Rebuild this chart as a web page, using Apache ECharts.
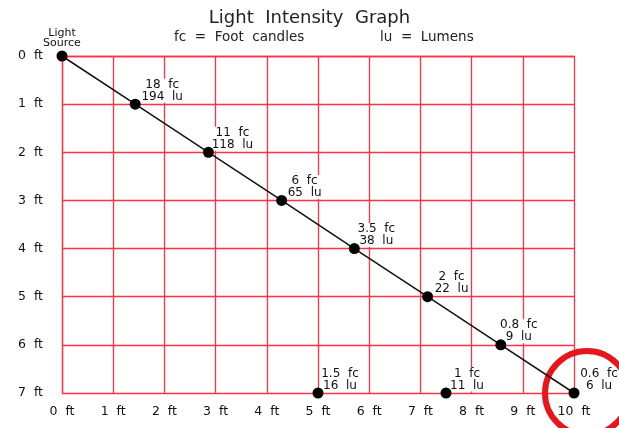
<!DOCTYPE html>
<html>
<head>
<meta charset="utf-8">
<script src="https://cdn.jsdelivr.net/npm/echarts@6/dist/echarts.min.js"></script>
<style>html,body{margin:0;padding:0;background:#fff}#c{width:619px;height:428px}</style>
</head>
<body>
<div id="c"></div>
<script>
// Distances (ft) along the ground and the depth below the light source
const mainX = [0, 1.43, 2.86, 4.29, 5.71, 7.14, 8.57, 10];
const mainY = [0, 1, 2, 3, 4, 5, 6, 7];
const mainFc = [null, '18', '11', '6', '3.5', '2', '0.8', '0.6'];
const mainLu = [null, '194', '118', '65', '38', '22', '9', '6'];
const extraX = [5, 7.5];
const extraY = [7, 7];
const extraFc = ['1.5', '1'];
const extraLu = ['16', '11'];
const xTicks = [0,1,2,3,4,5,6,7,8,9,10];
const yTicks = [0,1,2,3,4,5,6,7];
const highlighted = [10, 7];

// label horizontal offsets in px (style only)
const mainLabelDx = [0, 27, 24, 23, 22, 24, 18, 25];
const extraLabelDx = [22, 21];

const FONT = 'DejaVu Sans';
const RED = '#ff3344';

function valueLabel(fc, lu, dx) {
  return {
    show: true,
    position: 'top',
    offset: [dx, 9],
    fontFamily: FONT,
    fontSize: 12,
    lineHeight: 12,
    color: '#111',
    backgroundColor: '#fff',
    padding: [0, 1],
    align: 'center',
    formatter: fc + '  fc\n' + lu + '  lu'
  };
}

const labelData = mainX.map((x, i) => ({
  value: [x, mainY[i]],
  label: i === 0 ? {
    show: true, position: 'top', offset: [0, 3], fontFamily: FONT, fontSize: 11,
    lineHeight: 10, color: '#111', formatter: 'Light\nSource'
  } : valueLabel(mainFc[i], mainLu[i], mainLabelDx[i])
})).concat(extraX.map((x, i) => ({
  value: [x, extraY[i]],
  label: valueLabel(extraFc[i], extraLu[i], extraLabelDx[i])
})));

const mainPts = mainX.map((x, i) => [x, mainY[i]]);
const extraPts = extraX.map((x, i) => [x, extraY[i]]);

const chart = echarts.init(document.getElementById('c'), null, {renderer: 'canvas'});
chart.setOption({
  animation: false,
  backgroundColor: '#fff',
  title: [
    {text: 'Light  Intensity  Graph', left: 'center', top: 4,
     textStyle: {fontFamily: FONT, fontSize: 18, fontWeight: 'normal', color: '#222'}},
    {text: 'fc  =  Foot  candles', left: 169, top: 25,
     textStyle: {fontFamily: FONT, fontSize: 13.5, fontWeight: 'normal', color: '#222'}},
    {text: 'lu  =  Lumens', left: 375, top: 25,
     textStyle: {fontFamily: FONT, fontSize: 13.5, fontWeight: 'normal', color: '#222'}}
  ],
  grid: {left: 62, right: 45, top: 56, bottom: 35, containLabel: false},
  xAxis: {
    type: 'value', min: xTicks[0], max: xTicks[xTicks.length - 1], interval: 1,
    axisLine: {show: true, lineStyle: {color: RED, width: 1.3}},
    axisTick: {show: false},
    splitLine: {show: true, lineStyle: {color: RED, width: 1.3}},
    axisLabel: {formatter: '{value}  ft', margin: 12, fontFamily: FONT, fontSize: 12.5, color: '#111'}
  },
  yAxis: {
    type: 'value', inverse: true, min: yTicks[0], max: yTicks[yTicks.length - 1], interval: 1,
    axisLine: {show: true, lineStyle: {color: RED, width: 1.3}},
    axisTick: {show: false},
    splitLine: {show: true, lineStyle: {color: RED, width: 1.3}},
    axisLabel: {formatter: '{value}  ft', margin: 19, fontFamily: FONT, fontSize: 12.5, color: '#111'}
  },
  series: [
    {
      // labels only (drawn beneath the dots)
      type: 'scatter', data: labelData, clip: false, z: 2, silent: true,
      symbol: 'circle', symbolSize: 11,
      itemStyle: {color: 'rgba(0,0,0,0)', opacity: 1}
    },
    {
      type: 'line', data: mainPts, clip: false, z: 5,
      symbol: 'circle', symbolSize: 11, showAllSymbol: true,
      itemStyle: {color: '#000', opacity: 1},
      lineStyle: {color: '#111', width: 1.5}
    },
    {
      type: 'scatter', data: extraPts, clip: false, z: 5,
      symbol: 'circle', symbolSize: 11,
      itemStyle: {color: '#000', opacity: 1}
    },
    {
      type: 'scatter', data: [highlighted], clip: false, z: 4, silent: true,
      symbol: 'circle', symbolSize: 84, symbolOffset: [13, 0],
      itemStyle: {color: 'rgba(0,0,0,0)', borderColor: '#e8151b', borderWidth: 6, opacity: 1}
    }
  ]
});
</script>
</body>
</html>
